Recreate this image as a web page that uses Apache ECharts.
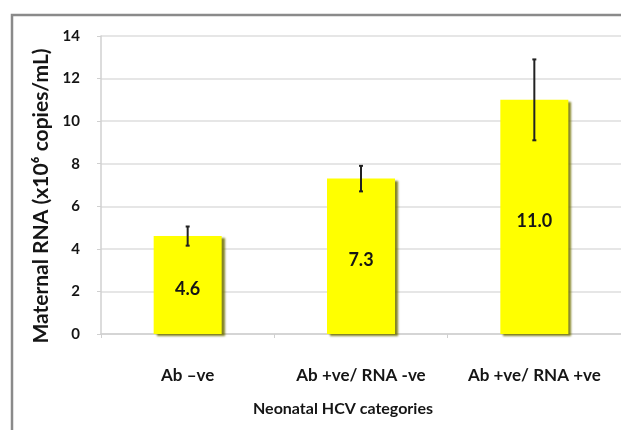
<!DOCTYPE html>
<html><head><meta charset="utf-8">
<script src="https://cdn.jsdelivr.net/npm/echarts@6/dist/echarts.min.js"></script>
<style>html,body{margin:0;padding:0;background:#fff}#c{width:621px;height:430px}</style>
</head><body><div id="c"></div>
<script>
const categories = ['Ab \u2013ve', 'Ab +ve/ RNA -ve', 'Ab +ve/ RNA +ve'];
const means = [4.6, 7.3, 11.0];
const errLow = [4.15, 6.7, 9.1];
const errHigh = [5.05, 7.9, 12.9];
const yTicks = [0, 2, 4, 6, 8, 10, 12, 14];

const chart = echarts.init(document.getElementById('c'), null, {renderer: 'canvas'});
const font = 'Lato, "Open Sans", sans-serif';
const txt = '#151515';
chart.setOption({
  animation: false,
  backgroundColor: '#fff',
  graphic: [{
    type: 'rect', shape: {x: 12, y: 15, width: 640, height: 440},
    style: {fill: 'none', stroke: '#8a8a8a', lineWidth: 2.5}, z: -10
  }],
  grid: {left: 101, top: 36, width: 526, bottom: 96},
  xAxis: {
    type: 'category', data: categories,
    axisLine: {lineStyle: {color: '#d0d0d0', width: 1.5}},
    axisTick: {show: true, length: 4, lineStyle: {color: '#d0d0d0'}},
    axisLabel: {color: txt, fontWeight: 'bold', fontSize: 17, fontFamily: font, margin: 33},
    name: 'Neonatal HCV categories', nameLocation: 'middle', nameGap: 67,
    nameTextStyle: {color: txt, fontWeight: 'bold', fontSize: 16, fontFamily: font, padding: [0, 36, 0, 0]}
  },
  yAxis: {
    type: 'value', min: 0, max: 14, interval: 2,
    axisLine: {show: true, lineStyle: {color: '#d0d0d0', width: 1.5}},
    axisTick: {show: true, length: 4, lineStyle: {color: '#d0d0d0'}},
    splitLine: {lineStyle: {color: '#dedede', width: 1.5}},
    axisLabel: {color: txt, fontWeight: 'bold', fontSize: 15, fontFamily: font, margin: 21,
      formatter: v => yTicks.includes(v) ? String(v) : ''},
    name: 'Maternal RNA (x10\u2076 copies/mL)', nameLocation: 'middle', nameGap: 48,
    nameTextStyle: {color: txt, fontWeight: 'bold', fontSize: 21, fontFamily: font, padding: [0, 22, 0, 0]}
  },
  series: [{
    type: 'bar', data: means, barWidth: 68,
    itemStyle: {color: '#ffff00', shadowColor: 'rgba(110,110,0,0.85)', shadowOffsetX: 3, shadowOffsetY: 2, shadowBlur: 2},
    label: {show: true, position: 'inside', offset: [0, 4], color: txt, fontWeight: 'bold', fontSize: 18, fontFamily: font,
      formatter: p => p.value.toFixed(1)}
  }, {
    type: 'custom', z: 10,
    data: categories.map((c, i) => [i, errLow[i], errHigh[i]]),
    renderItem: (params, api) => {
      const lo = api.coord([api.value(0), api.value(1)]);
      const hi = api.coord([api.value(0), api.value(2)]);
      const w = 2;
      const st = {stroke: '#222', lineWidth: 2};
      return {type: 'group', children: [
        {type: 'line', shape: {x1: lo[0], y1: lo[1], x2: hi[0], y2: hi[1]}, style: st},
        {type: 'line', shape: {x1: hi[0] - w, y1: hi[1], x2: hi[0] + w, y2: hi[1]}, style: st},
        {type: 'line', shape: {x1: lo[0] - w, y1: lo[1], x2: lo[0] + w, y2: lo[1]}, style: st}
      ]};
    }
  }]
});
</script></body></html>
